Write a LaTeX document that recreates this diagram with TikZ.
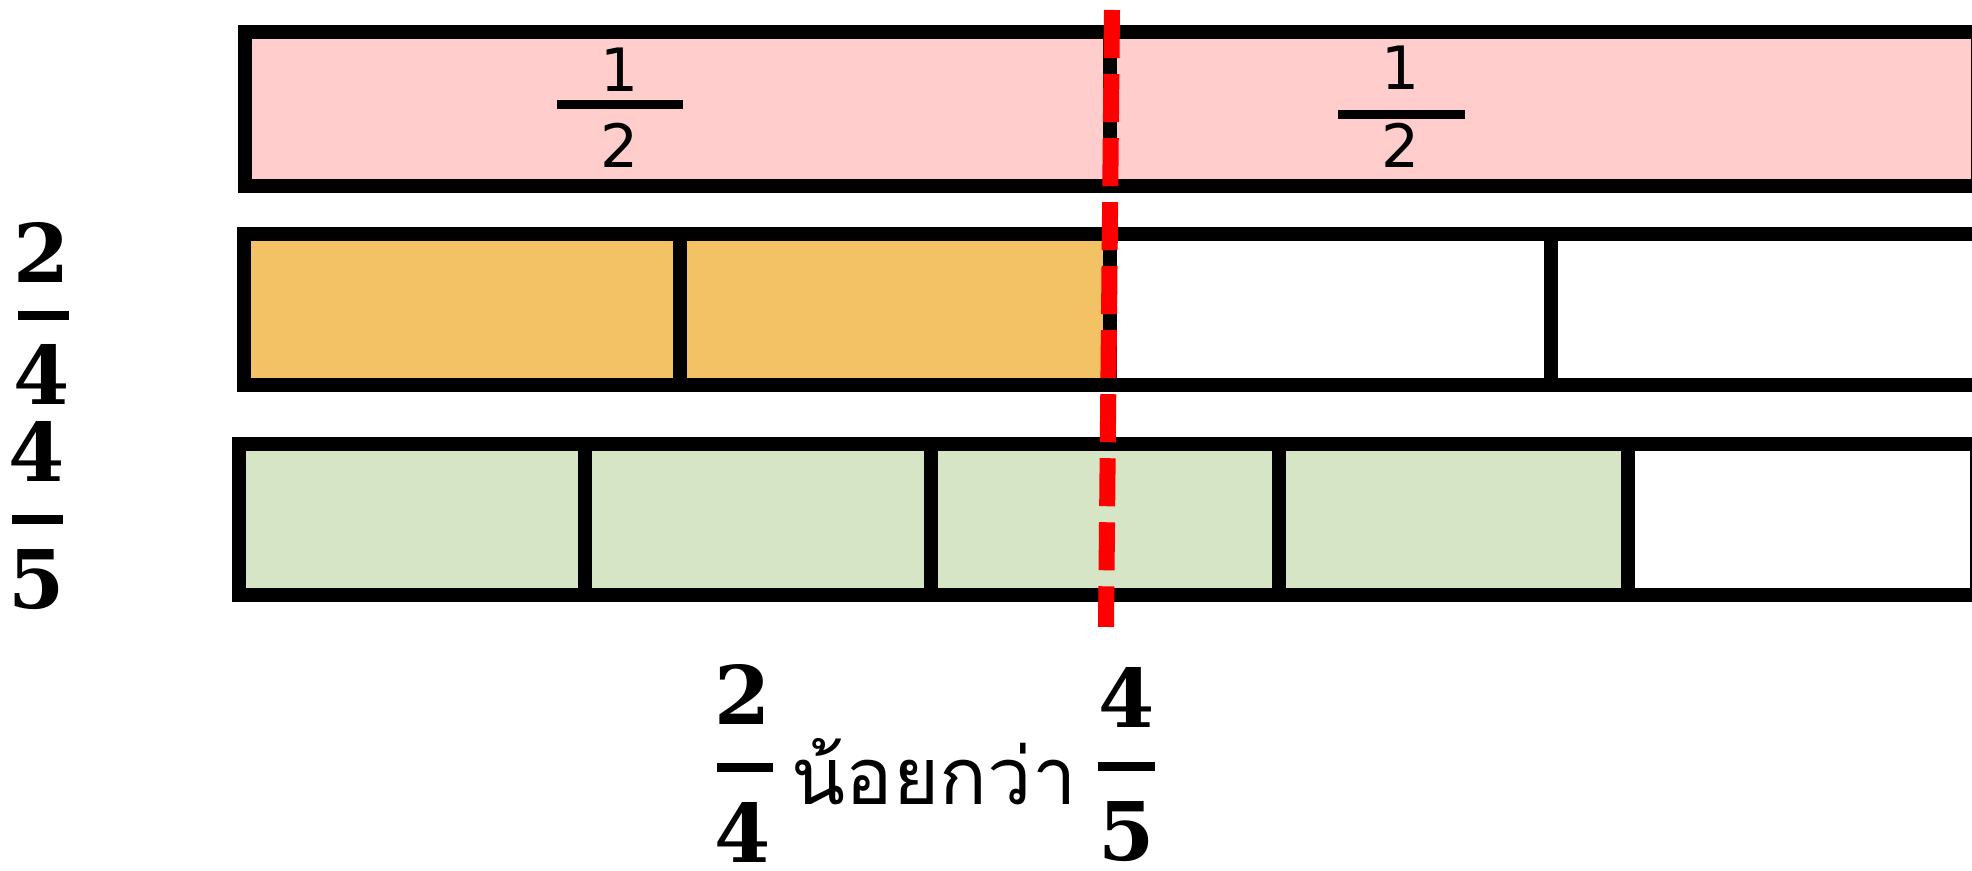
\documentclass[tikz,border=0pt]{standalone}
\usepackage{fontspec}
\setmainfont{DejaVu Serif}
\newfontfamily\halffont{DejaVu Sans}
\newfontfamily\thaifont[Script=Thai]{Loma}
\definecolor{halfpink}{HTML}{FFCDCB}
\definecolor{quarterorange}{HTML}{F2C265}
\definecolor{fifthgreen}{HTML}{D5E5C6}
\begin{document}
\begin{tikzpicture}[x=0.01cm,y=-0.01cm,
  frame/.style={line width=0.14cm},
  bar/.style={line width=0.09cm},
  num/.style={inner sep=0pt,font=\fontsize{23}{28}\selectfont\bfseries},
  half/.style={inner sep=0pt,font=\halffont\fontsize{17}{20}\selectfont}]
\useasboundingbox (0,0) rectangle (1972,871);
\clip (0,0) rectangle (1972,871);

\fill[halfpink] (245,32) rectangle (1978,186);
\draw[frame] (245,32) rectangle (1978,186) (1110,32) -- (1110,186);

\fill[quarterorange] (244,234) rectangle (1110,385);
\draw[frame] (244,234) rectangle (2000,385);
\foreach \x in {680,1110,1551}
  \draw[frame] (\x,234) -- (\x,385);

\fill[fifthgreen] (239,444) rectangle (1628,595);
\draw[frame] (239,444) rectangle (1977,595);
\foreach \x in {585,931,1279,1628}
  \draw[frame] (\x,444) -- (\x,595);

\draw[red,line width=0.16cm,dash pattern=on 0.48cm off 0.16cm] (1112,10) -- (1106,627);

\node[half] (h1a) at (620,70) {1};
\node[half] (h1b) at (620,145) {2};
\draw[bar] (557,105) -- (683,105);
\node[half] (h2a) at (1401,68) {1};
\node[half] (h2b) at (1401,145) {2};
\draw[bar] (1338,115) -- (1465,115);

\node[num] (qa) at (42,253) {2};
\node[num] (qb) at (42,374) {4};
\draw[bar] (18,316) -- (69,316);
\node[num] (fa) at (37,451) {4};
\node[num] (fb) at (37,580) {5};
\draw[bar] (12,520) -- (63,520);

\node[num] (la) at (743,694) {2};
\node[num] (lb) at (743,832) {4};
\draw[bar] (717,768) -- (773,768);
\node[inner sep=0pt,anchor=base,font=\thaifont\fontsize{22.5}{27}\selectfont] (less) at (934,805) {น้อยกว่า};
\node[num] (ra) at (1127,697) {4};
\node[num] (rb) at (1127,832) {5};
\draw[bar] (1098,767) -- (1155,767);
\end{tikzpicture}
\end{document}
